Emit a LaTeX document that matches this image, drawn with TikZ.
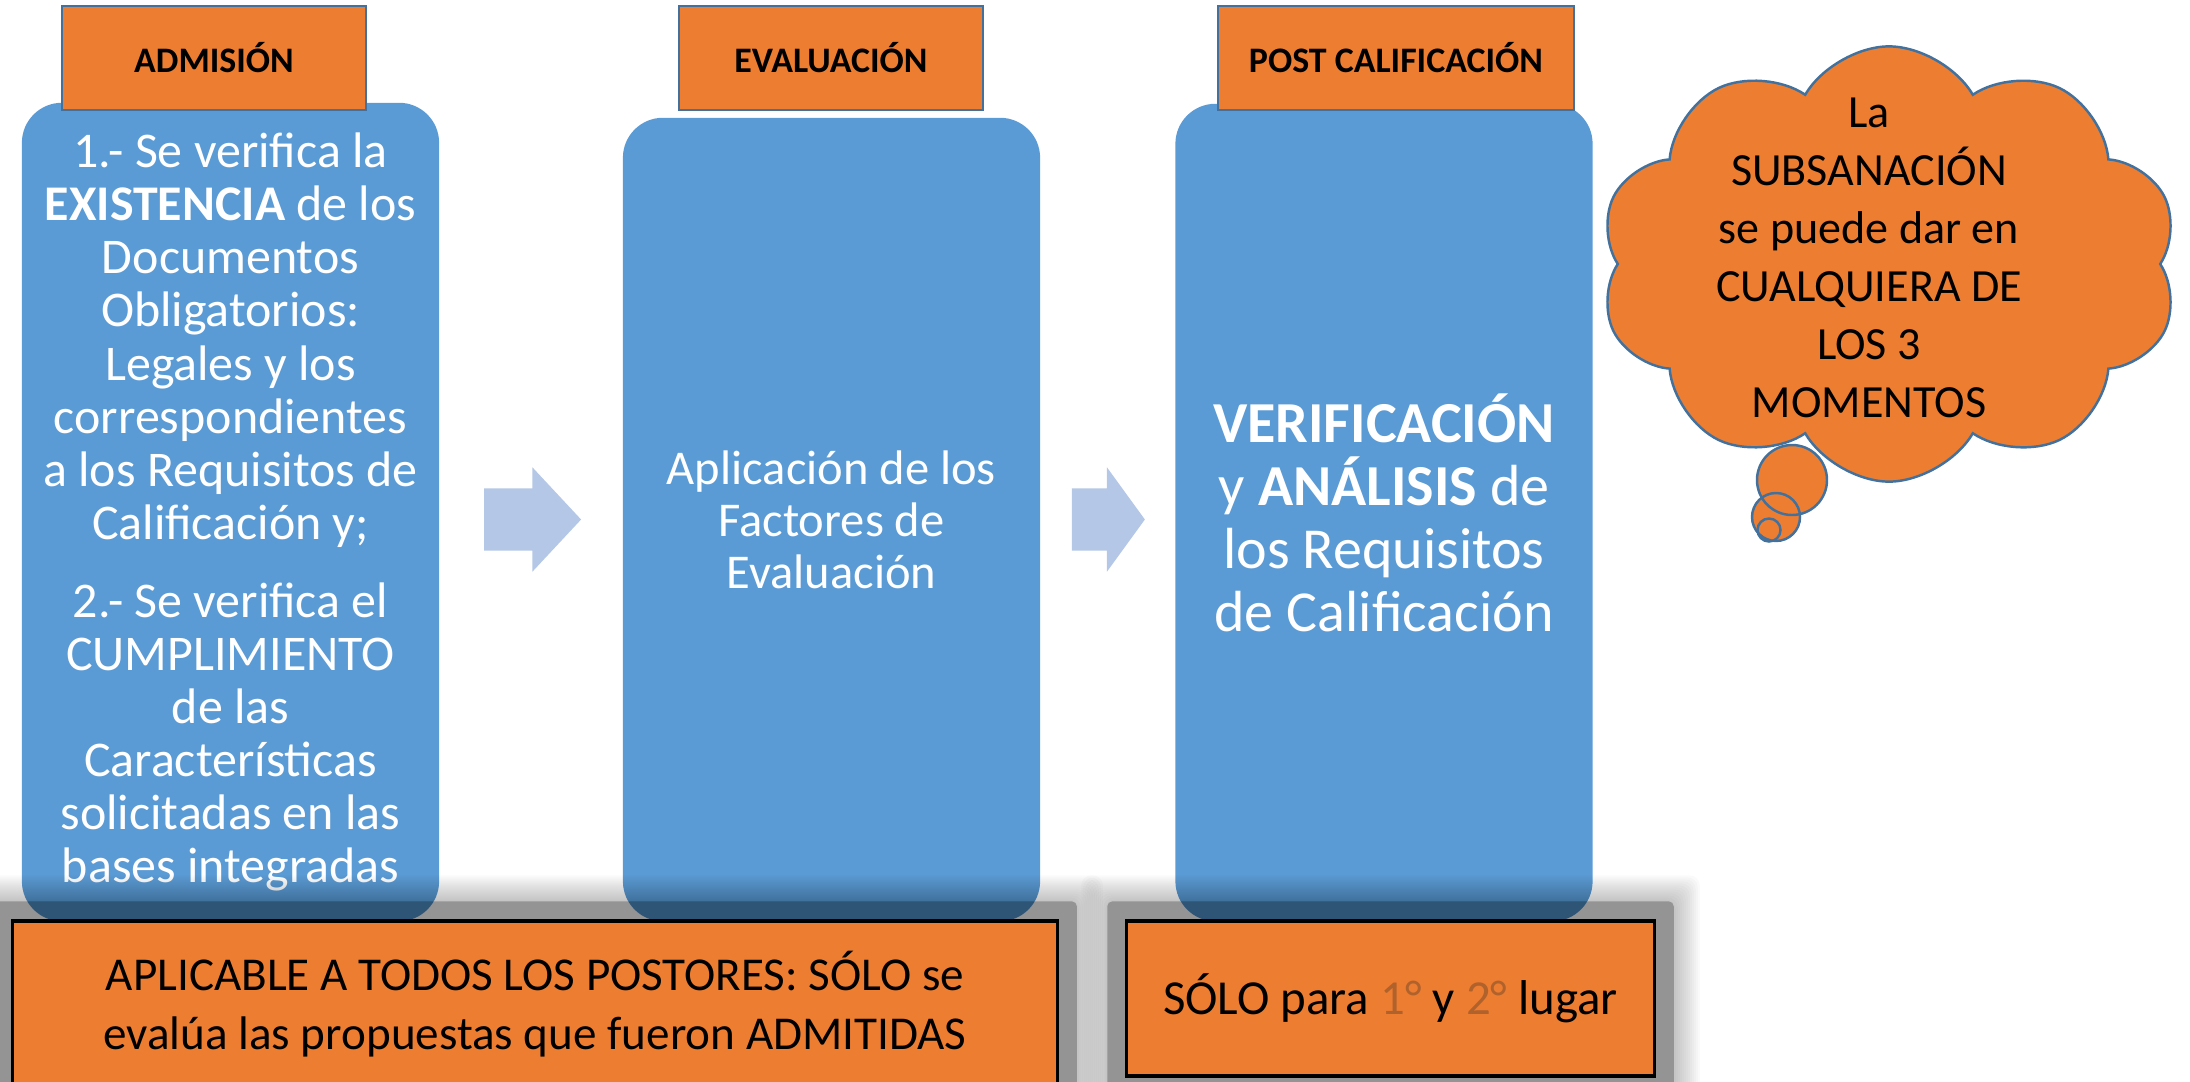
\documentclass[tikz,border=0pt]{standalone}
\usepackage{fontspec}
\setmainfont{Carlito}
\usetikzlibrary{positioning,calc,shapes.symbols,shapes.arrows}

\definecolor{naranja}{RGB}{237,125,49}
\definecolor{azul}{RGB}{91,155,213}
\definecolor{borde}{RGB}{65,113,156}
\definecolor{flechaclara}{RGB}{180,199,231}
\definecolor{marron}{RGB}{176,98,44}

\pgfdeclarelayer{fondo}
\pgfdeclarelayer{sombra}
\pgfsetlayers{fondo,sombra,main}

\begin{document}
\begin{tikzpicture}[x=0.01cm, y=-0.01cm,
	cabecera/.style={draw=borde, fill=naranja, line width=0.7pt, inner sep=0pt, minimum height=1.04cm, font=\fontsize{10.2}{12}\selectfont\bfseries},
	etapa/.style={fill=azul, rounded corners=0.4cm, inner sep=0pt, text=white, align=center, minimum width=4.17cm, font=\fontsize{14.2}{15.1}\selectfont},
	pie/.style={draw=black, fill=naranja, line width=0.9pt, inner sep=0pt, align=center, font=\fontsize{13.4}{16.8}\selectfont},
	bloque/.style={single arrow, fill=flechaclara, inner xsep=0pt, inner ysep=0.305cm, minimum width=1.03cm, single arrow head extend=0.21cm},
	globo/.style={circle, fill=naranja, inner sep=0pt},
	contorno/.style={draw=borde, line width=0.7pt}]
	\useasboundingbox (0,0) rectangle (2190,1081);

	\begin{pgfonlayer}{fondo}
		\node[etapa, minimum height=8.18cm] (adm) at (230.5, 512) {1.- Se verifica la\\ \textbf{EXISTENCIA} de los\\ Documentos\\ Obligatorios:\\ Legales y los\\ correspondientes\\ a los Requisitos de\\ Calificación y;\\[7pt] 2.- Se verifica el\\ CUMPLIMIENTO\\ de las\\ Características\\ solicitadas en las\\ bases integradas};
		\node[etapa, minimum height=8.03cm, font=\fontsize{13.8}{14.8}\selectfont] (eva) at (831.5, 519.5) {Aplicación de los\\ Factores de\\ Evaluación};
		\node[etapa, minimum height=8.17cm, font=\fontsize{16.5}{17.9}\selectfont] (post) at (1384, 512.5) {\textbf{VERIFICACIÓN}\\ y \textbf{ANÁLISIS} de\\ los Requisitos\\ de Calificación};
	\end{pgfonlayer}

	\node[cabecera, minimum width=3.04cm] (tadm) at (214, 58) {ADMISIÓN};
	\node[cabecera, minimum width=3.04cm] (teva) at (831, 58) {EVALUACIÓN};
	\node[cabecera, minimum width=3.56cm] (tpost) at (1396, 58) {POST CALIFICACIÓN};

	\node[bloque, minimum height=0.97cm, single arrow tip angle=94] (f1) at (518, 519.5) {};
	\node[bloque, minimum height=0.73cm, single arrow tip angle=108] (f2) at (1097, 519.5) {};

	\node[cloud, cloud puffs=10, cloud puff arc=120, aspect=1.35, minimum width=5.79cm, minimum height=4.35cm, fill=naranja, contorno] (nube) at (1889, 264) {};
	\node[globo, minimum size=0.70cm] (g1) at (1792, 480) {};
	\node[globo, minimum size=0.48cm] (g2) at (1776, 517) {};
	\node[globo, minimum size=0.23cm] (g3) at (1769, 530) {};
	\draw[contorno] (g1.center) circle[radius=35];
	\draw[contorno] (g2.center) circle[radius=24];
	\draw[contorno] (g3.center) circle[radius=11.5];
	\node[align=center, font=\fontsize{13.1}{16.5}\selectfont] (subs) at (1869, 258) {La\\ SUBSANACIÓN\\ se puede dar en\\ CUALQUIERA DE\\ LOS 3\\ MOMENTOS};

	\node[pie, minimum width=10.44cm, minimum height=1.66cm] (todos) at (535, 1004) {APLICABLE A TODOS LOS POSTORES: SÓLO se\\ evalúa las propuestas que fueron ADMITIDAS};
	\node[pie, minimum width=5.27cm, minimum height=1.55cm, font=\fontsize{13.9}{16.8}\selectfont] (lugar) at (1390.5, 998.5) {SÓLO para \textcolor{marron}{1°} y \textcolor{marron}{2°} lugar};

	\begin{pgfonlayer}{sombra}
		\foreach \caja in {todos, lugar} {
			\fill[black, fill opacity=0.25, rounded corners=0.05cm] ($(\caja.north west)+(-18,-18)$) rectangle ($(\caja.south east)+(18,18)$);
			\foreach \d in {20,22,...,44}
				\fill[black, fill opacity=0.02, rounded corners=0.1cm] ($(\caja.north west)+(-\d,-\d)$) rectangle ($(\caja.south east)+(\d,\d)$);
		}
	\end{pgfonlayer}
\end{tikzpicture}
\end{document}
